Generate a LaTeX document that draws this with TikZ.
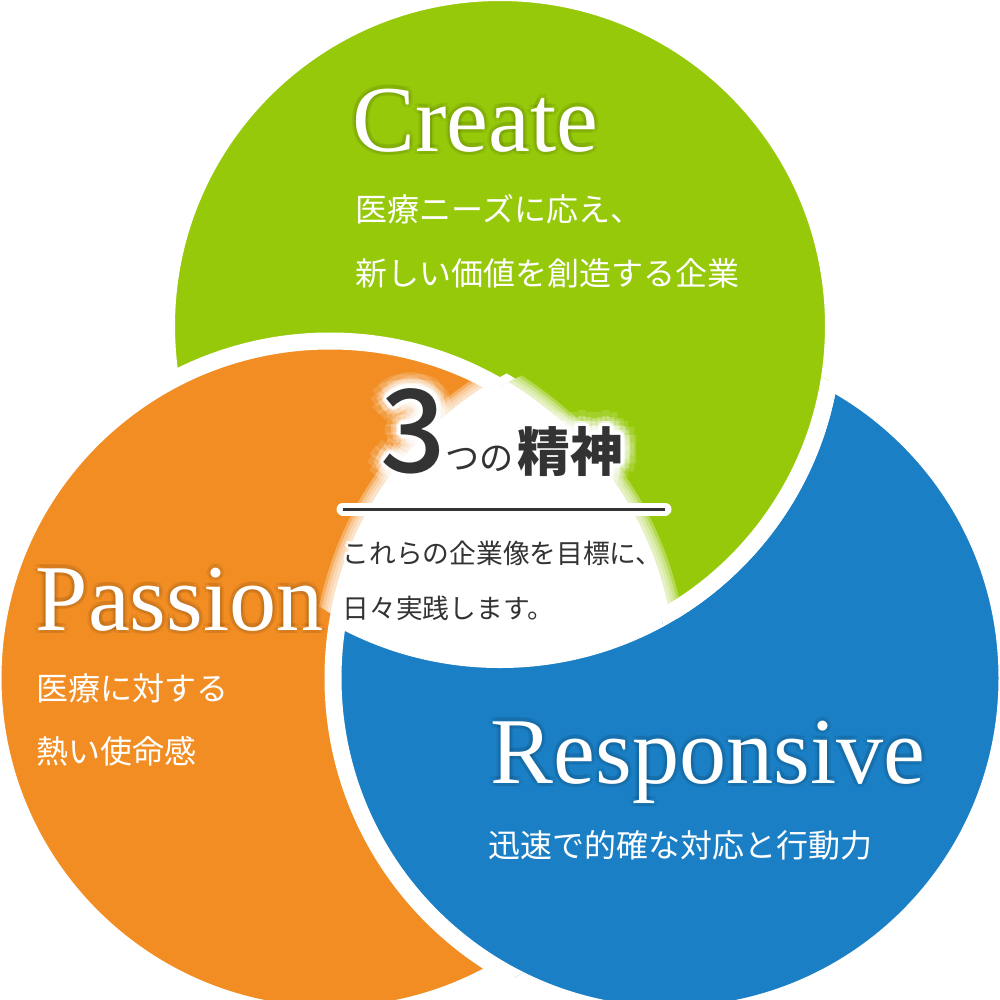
\documentclass[tikz,border=0pt]{standalone}
\usepackage{fontspec}
\setmainfont{Liberation Serif}
\newfontfamily\jpfont{Noto Sans CJK JP}
\IfFontExistsTF{Noto Sans CJK JP Medium}
  {\newfontfamily\jpnumfont{Noto Sans CJK JP Medium}}
  {\newcommand\jpnumfont{\jpfont\bfseries}}
\usetikzlibrary{calc}
\definecolor{creategreen}{RGB}{150,201,10}
\definecolor{passionorange}{RGB}{241,141,34}
\definecolor{responsiveblue}{RGB}{26,127,196}
\definecolor{inkgray}{RGB}{51,51,51}
\tikzset{
  rim/.style={draw=white,line width=0.17cm},
  bigword/.style={text=white,font=\fontsize{26.8pt}{30pt}\selectfont,anchor=base west,inner sep=0pt},
  lead/.style={text=white,font=\jpfont\fontsize{9.1pt}{11pt}\selectfont,anchor=base west,inner sep=0pt},
  note/.style={text=inkgray,font=\jpfont\fontsize{7.6pt}{9pt}\selectfont,anchor=base west,inner sep=0pt},
  titlenum/.style={text=inkgray,font=\jpnumfont\fontsize{32.7pt}{34pt}\selectfont,anchor=base west,inner sep=0pt},
  titlekana/.style={text=inkgray,font=\jpfont\fontsize{9.7pt}{11pt}\selectfont,anchor=base west,inner sep=0pt},
  titlekanji/.style={text=inkgray,font=\jpfont\bfseries\fontsize{15pt}{17pt}\selectfont,anchor=base west,inner sep=0pt}
}
\begin{document}
\begin{tikzpicture}[x=0.01cm,y=-0.01cm]
  \fill[white] (0,0) rectangle (1000,1000);
  \useasboundingbox (0,0) rectangle (1000,1000);
  \coordinate (create) at (500,326);
  \coordinate (passion) at (330,678);
  \coordinate (responsive) at (670,678);

  % three circles, each one over the next
  \path[fill=responsiveblue,rim] (responsive) circle[radius=337];
  \path[fill=creategreen,rim] (create) circle[radius=333.5];
  \path[fill=passionorange,rim] (passion) circle[radius=337];
  \begin{scope}
    \clip (passion) circle[radius=352];
    \path[fill=responsiveblue,rim] (responsive) circle[radius=337];
  \end{scope}
  \begin{scope}[even odd rule]
    \clip (responsive) circle[radius=337];
    \clip (-100,-100) rectangle (1100,1100) (passion) circle[radius=337];
    \path[fill=creategreen,rim] (create) circle[radius=333.5];
  \end{scope}

  % white centre
  \begin{scope}
    \clip (passion) circle[radius=337];
    \clip (responsive) circle[radius=337];
    \fill[white] (create) circle[radius=333.5];
    \draw[rim] (create) circle[radius=333.5];
  \end{scope}
  \begin{scope}
    \clip (create) circle[radius=333.5];
    \clip (passion) circle[radius=337];
    \foreach \w in {0.24,0.30,0.36,0.42}
      \draw[white,line width=\w cm,opacity=0.3] (responsive) circle[radius=337];
    \draw[rim] (responsive) circle[radius=337];
  \end{scope}
  \begin{scope}
    \clip (create) circle[radius=333.5];
    \clip (responsive) circle[radius=337];
    \foreach \w in {0.24,0.30,0.36,0.42}
      \draw[white,line width=\w cm,opacity=0.3] (passion) circle[radius=337];
    \draw[rim] (passion) circle[radius=337];
  \end{scope}

  % Create
  \foreach \a in {0,60,...,300}
    \node[bigword,text=black,opacity=0.06] at ($(352,151)+(\a:4)$) {Create};
  \node[bigword] (createword) at (352,151) {Create};
  \node[lead] (createline1) at (355,221) {医療ニーズに応え、};
  \node[lead] (createline2) at (355,285) {新しい価値を創造する企業};

  % Passion
  \foreach \a in {0,60,...,300}
    \node[bigword,text=black,opacity=0.06] at ($(35,630)+(\a:4)$) {Passion};
  \node[bigword] (passionword) at (35,630) {Passion};
  \node[lead] (passionline1) at (36,700) {医療に対する};
  \node[lead] (passionline2) at (36,763) {熱い使命感};

  % Responsive
  \foreach \a in {0,60,...,300}
    \node[bigword,text=black,opacity=0.06] at ($(490,783)+(\a:4)$) {Responsive};
  \node[bigword] (responsiveword) at (490,783) {Responsive};
  \node[lead] (responsiveline) at (488,857) {迅速で的確な対応と行動力};

  % title with halo
  \foreach \r/\o in {16/0.15,10/0.25,5/0.4,3/1}
    \foreach \a in {0,30,...,330} {
      \node[titlenum,text=white,opacity=\o] at ($(380,472)+(\a:\r)$) {3};
      \node[titlekana,text=white,opacity=\o] at ($(445,470)+(\a:\r)$) {つの};
      \node[titlekanji,text=white,opacity=\o] at ($(517,471)+(\a:\r)$) {精神};
    }
  \node[titlenum] (three) at (380,472) {3};
  \node[titlekana] (tsuno) at (445,470) {つの};
  \node[titlekanji] (seishin) at (517,471) {精神};

  \coordinate (rulel) at (343,509);
  \coordinate (ruler) at (665,509);
  \draw[white,line width=0.13cm,line cap=round] (rulel) -- (ruler);
  \draw[inkgray,line width=0.03cm] (rulel) -- (ruler);

  \foreach \a in {0,45,...,315} {
    \node[note,text=white] at ($(342,563)+(\a:3)$) {これらの企業像を目標に、};
    \node[note,text=white] at ($(342,618)+(\a:3)$) {日々実践します。};
  }
  \node[note] (goal) at (342,563) {これらの企業像を目標に、};
  \node[note] (daily) at (342,618) {日々実践します。};
\end{tikzpicture}
\end{document}
